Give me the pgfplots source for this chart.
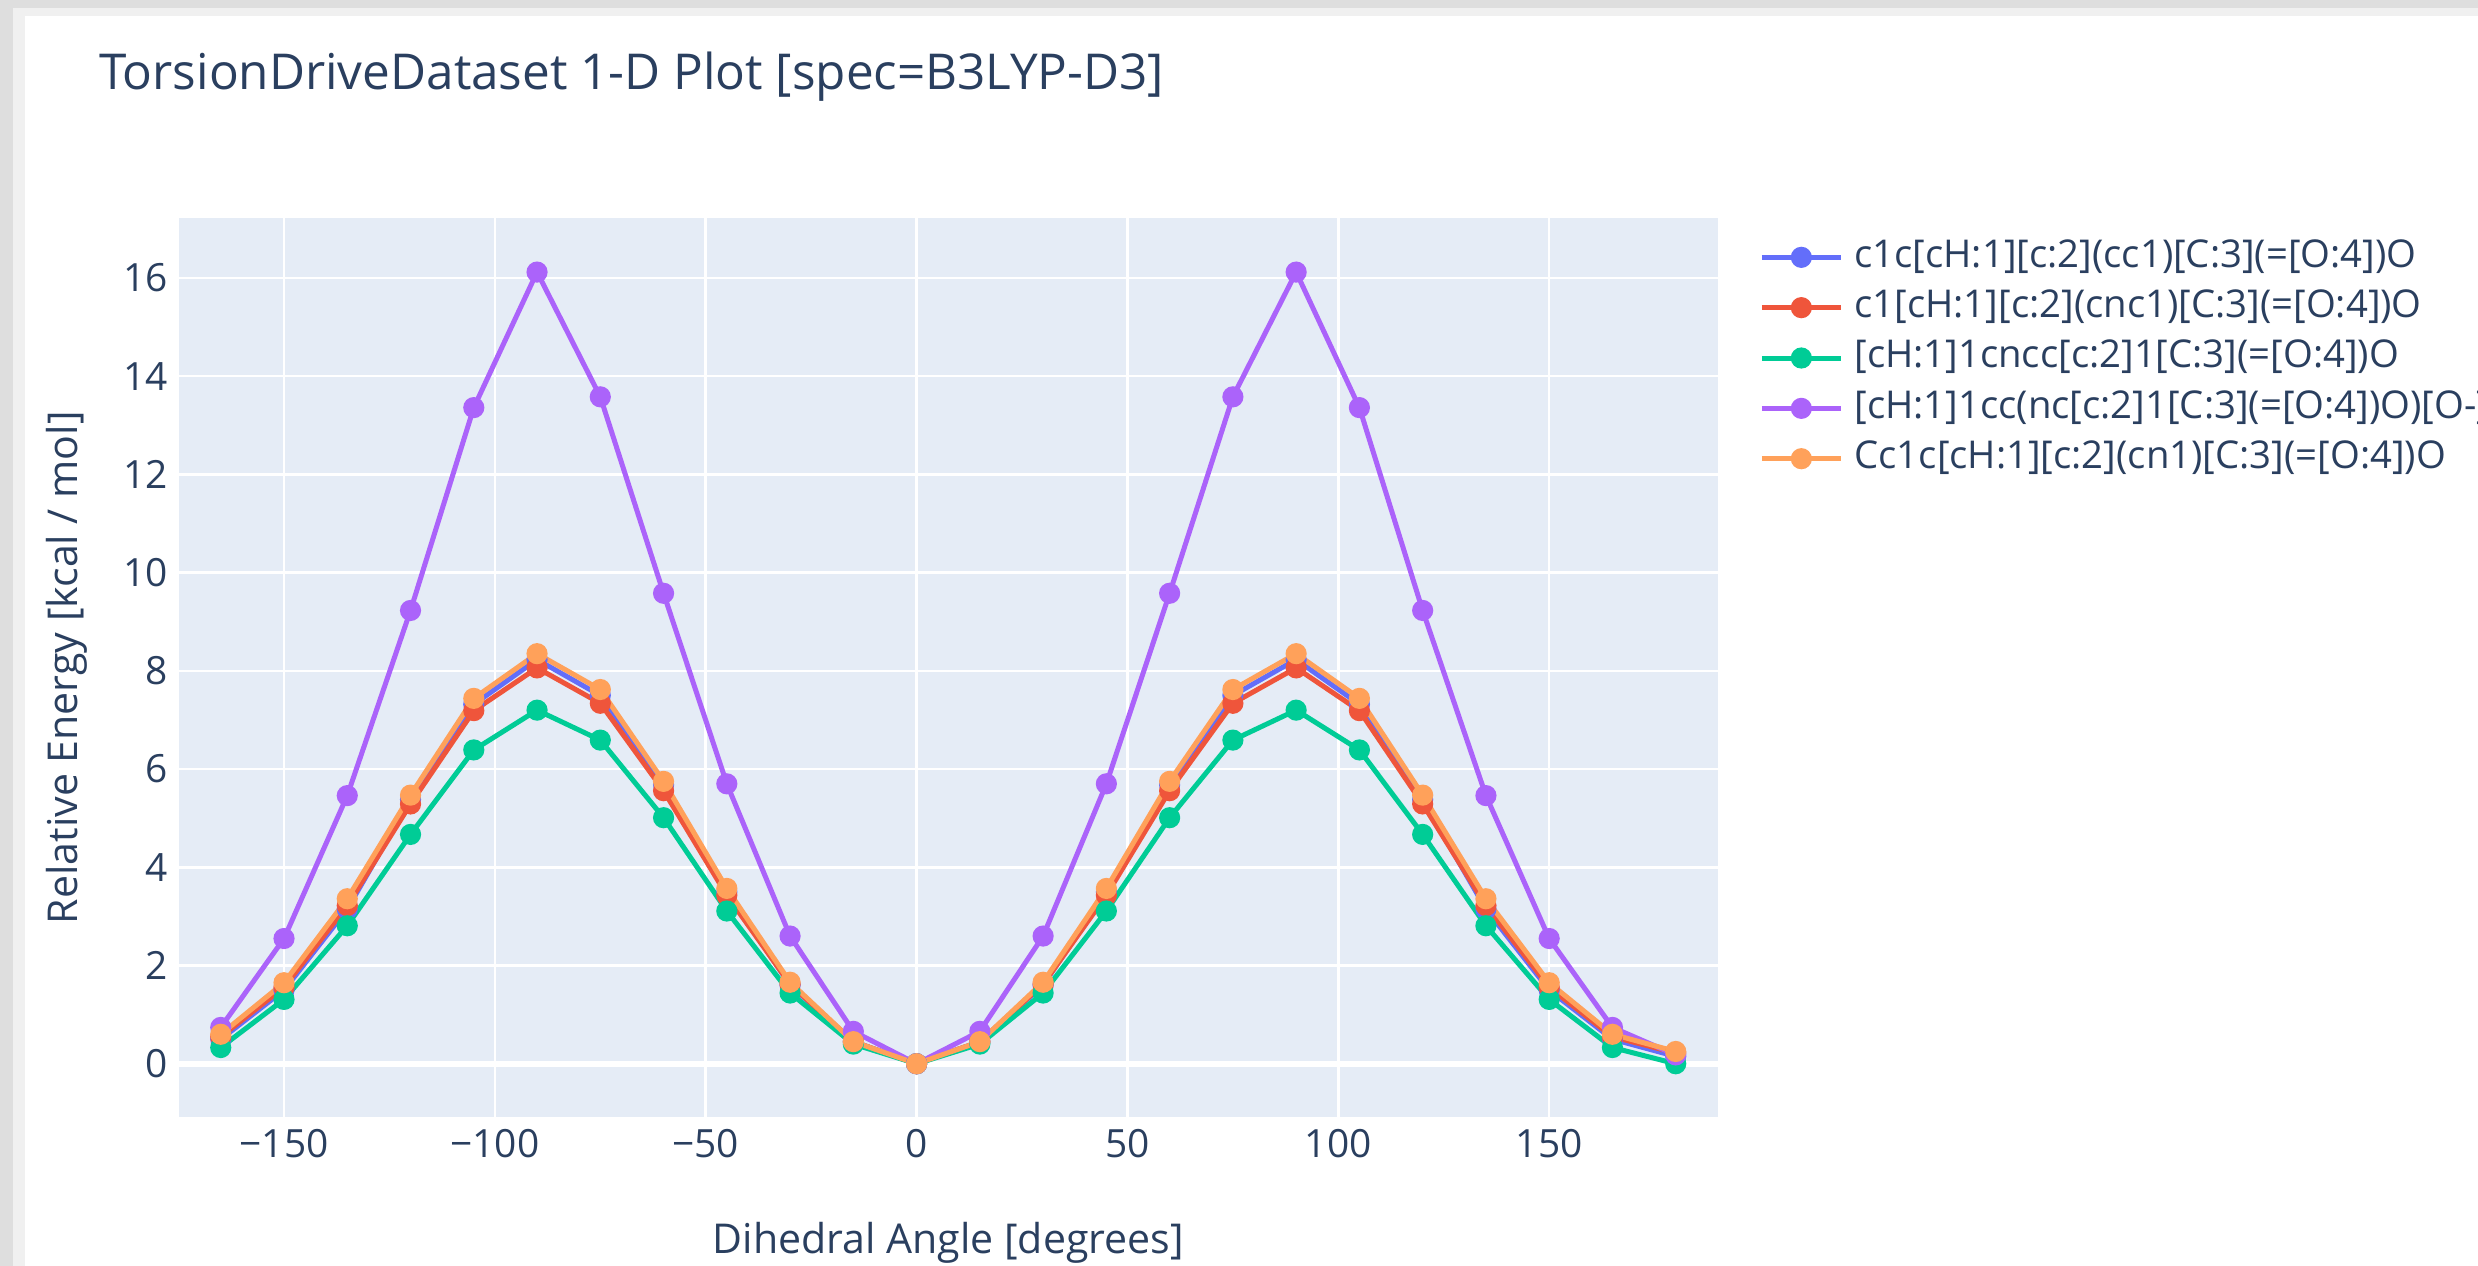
\documentclass[border=0pt]{standalone}
\usepackage{fontspec}
\setmainfont{Open Sans}
\usepackage{pgfplots}
\pgfplotsset{compat=1.18}
\definecolor{plbg}{HTML}{E5ECF6}
\definecolor{pltext}{HTML}{2A3F5F}
\definecolor{cA}{HTML}{636EFA}
\definecolor{cB}{HTML}{EF553B}
\definecolor{cC}{HTML}{00CC96}
\definecolor{cD}{HTML}{AB63FA}
\definecolor{cE}{HTML}{FFA15A}
\begin{document}
\begin{tikzpicture}
\clip (0,0) rectangle (15.68,8.01);
\fill[black!13] (0,0) rectangle (15.68,8.01);
\fill[black!6] (0.08,0) rectangle (15.68,7.96);
\fill[white] (0.16,0) rectangle (15.68,7.91);
\begin{axis}[
  at={(1.13cm,0.94cm)}, anchor=south west,
  scale only axis, width=9.74cm, height=5.69cm,
  xmin=-175, xmax=190, ymin=-1.09, ymax=17.22,
  axis background/.style={fill=plbg},
  axis line style={draw=none},
  grid=major, major grid style={white, line width=0.45pt},
  tick style={draw=none},
  xtick={-150,-100,-50,0,50,100,150},
  xticklabels={−150,−100,−50,0,50,100,150},
  ytick={0,2,4,6,8,10,12,14,16},
  yticklabels={0,2,4,6,8,10,12,14,16},
  ticklabel style={font=\fontsize{7}{8}\selectfont, text=pltext},
  xticklabel style={inner sep=0pt, yshift=-0.07cm},
  yticklabel style={inner sep=0pt, xshift=-0.06cm},
  xlabel={Dihedral Angle [degrees]},
  ylabel={Relative Energy [kcal / mol]},
  label style={font=\fontsize{7.4}{9}\selectfont, text=pltext},
  x label style={at={(axis description cs:0.5,-0.14)}, anchor=center},
  y label style={at={(axis description cs:-0.0729,0.5)}, anchor=center, rotate=0},
  title={TorsionDriveDataset 1-D Plot [spec=B3LYP-D3]},
  title style={at={(axis description cs:-0.0524,1.1634)}, anchor=west, yshift=-7pt, inner sep=0pt, font=\fontsize{8.9}{11}\selectfont, text=pltext},
  clip=false,
  every axis plot/.append style={line width=0.9pt, mark=*, mark size=1.45pt},
  legend style={at={(1.0154,0.99)}, anchor=north west, draw=none, fill=none,
    font=\fontsize{6.9}{8}\selectfont, text=pltext, row sep=0.09cm,
    nodes={inner sep=0pt}},
  legend cell align=left,
  legend image code/.code={\draw[#1, mark repeat=2, mark phase=2] plot coordinates {(0cm,0cm) (0.25cm,0cm) (0.50cm,0cm)}; \path (0.57cm,0cm);},
]
\addplot[white, line width=1pt, mark=none, forget plot] coordinates {(-175,0) (190,0)};
\addplot[cA, mark options={fill=cA, draw=cA}] coordinates {
(-165,0.50) (-150,1.50) (-135,3.15) (-120,5.38) (-105,7.32) (-90,8.23) (-75,7.50) (-60,5.68) (-45,3.50) (-30,1.60) (-15,0.45) (0,0)
(15,0.45) (30,1.60) (45,3.50) (60,5.68) (75,7.50) (90,8.23) (105,7.32) (120,5.38) (135,3.15) (150,1.50) (165,0.50) (180,0.15)};
\addlegendentry{c1c[cH:1][c:2](cc1)[C:3](=[O:4])O}
\addplot[cB, mark options={fill=cB, draw=cB}] coordinates {
(-165,0.55) (-150,1.56) (-135,3.22) (-120,5.29) (-105,7.19) (-90,8.06) (-75,7.34) (-60,5.56) (-45,3.43) (-30,1.62) (-15,0.45) (0,0)
(15,0.45) (30,1.62) (45,3.43) (60,5.56) (75,7.34) (90,8.06) (105,7.19) (120,5.29) (135,3.22) (150,1.56) (165,0.55) (180,0.22)};
\addlegendentry{c1[cH:1][c:2](cnc1)[C:3](=[O:4])O}
\addplot[cC, mark options={fill=cC, draw=cC}] coordinates {
(-165,0.33) (-150,1.31) (-135,2.81) (-120,4.67) (-105,6.39) (-90,7.20) (-75,6.59) (-60,5.01) (-45,3.11) (-30,1.44) (-15,0.40) (0,0)
(15,0.40) (30,1.44) (45,3.11) (60,5.01) (75,6.59) (90,7.20) (105,6.39) (120,4.67) (135,2.81) (150,1.31) (165,0.33) (180,0.0)};
\addlegendentry{[cH:1]1cncc[c:2]1[C:3](=[O:4])O}
\addplot[cD, mark options={fill=cD, draw=cD}] coordinates {
(-165,0.74) (-150,2.55) (-135,5.46) (-120,9.23) (-105,13.36) (-90,16.12) (-75,13.58) (-60,9.58) (-45,5.70) (-30,2.60) (-15,0.66) (0,0)
(15,0.66) (30,2.60) (45,5.70) (60,9.58) (75,13.58) (90,16.12) (105,13.36) (120,9.23) (135,5.46) (150,2.55) (165,0.74) (180,0.18)};
\addlegendentry{[cH:1]1cc(nc[c:2]1[C:3](=[O:4])O)[O-]}
\addplot[cE, mark options={fill=cE, draw=cE}] coordinates {
(-165,0.60) (-150,1.65) (-135,3.36) (-120,5.47) (-105,7.44) (-90,8.35) (-75,7.62) (-60,5.75) (-45,3.57) (-30,1.66) (-15,0.45) (0,0)
(15,0.45) (30,1.66) (45,3.57) (60,5.75) (75,7.62) (90,8.35) (105,7.44) (120,5.47) (135,3.36) (150,1.65) (165,0.60) (180,0.25)};
\addlegendentry{Cc1c[cH:1][c:2](cn1)[C:3](=[O:4])O}
\end{axis}
\end{tikzpicture}
\end{document}
